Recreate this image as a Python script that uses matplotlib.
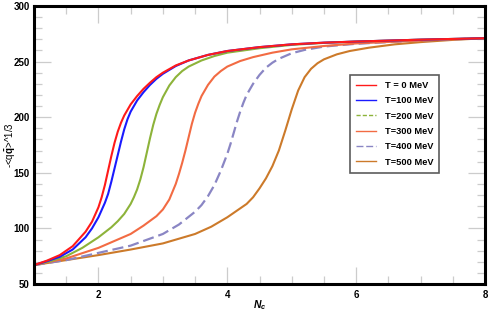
import matplotlib
matplotlib.use('Agg')
import matplotlib.pyplot as plt
from matplotlib.lines import Line2D
from matplotlib.ticker import MultipleLocator

plt.rcParams['font.family'] = ['Liberation Sans', 'DejaVu Sans']
plt.rcParams['font.weight'] = 'bold'
plt.rcParams['mathtext.fontset'] = 'custom'
plt.rcParams['mathtext.rm'] = 'Liberation Sans:bold'
plt.rcParams['mathtext.it'] = 'Liberation Sans:bold:italic'

# values
x_t0 = [1.0, 1.2, 1.4, 1.6, 1.8, 1.9, 2.0, 2.05, 2.1, 2.15, 2.2, 2.25, 2.3, 2.35,
        2.4, 2.5, 2.6, 2.7, 2.8, 2.9, 3.0, 3.2, 3.4, 3.7, 4.0, 4.5, 5.0, 5.5,
        6.0, 7.0, 8.0]
y_t0 = [67, 71, 76, 84, 97, 106, 119, 128, 139, 152, 165, 177, 187, 195,
        201.5, 211.5, 219, 225.5, 231, 236, 240, 246.5, 251, 256, 259.5, 263, 265.5, 267,
        268, 269.7, 271]

x_t100 = [1.0, 1.2, 1.4, 1.6, 1.8, 1.9, 2.0, 2.1, 2.15, 2.2, 2.25, 2.3, 2.35, 2.4,
          2.45, 2.5, 2.6, 2.7, 2.8, 2.9, 3.0, 3.2, 3.4, 3.7, 4.0, 4.5, 5.0, 5.5,
          6.0, 7.0, 8.0]
y_t100 = [67, 70.5, 74.5, 81, 92, 100, 110, 123, 131, 142, 154, 166, 178, 189,
          198, 205, 215, 222.5, 229, 234.5, 239, 246, 251, 256, 259.5, 263, 265.5, 267,
          268, 269.7, 271]

x_t200 = [1.0, 1.25, 1.5, 1.75, 2.0, 2.2, 2.3, 2.4, 2.5, 2.55, 2.6, 2.65, 2.7, 2.75,
          2.8, 2.85, 2.9, 2.95, 3.0, 3.1, 3.2, 3.3, 3.4, 3.6, 3.8, 4.0, 4.5, 5.0,
          5.5, 6.0, 7.0, 8.0]
y_t200 = [67, 70.5, 75, 82.5, 92, 101, 106.5, 113, 122, 128, 135, 144, 155, 168,
          181, 193, 203, 211, 218, 228.5, 236, 241.5, 245.5, 251, 255, 258, 262, 265,
          266.8, 268, 269.7, 271]

x_t300 = [1.0, 1.5, 2.0, 2.5, 2.7, 2.9, 3.0, 3.1, 3.2, 3.25, 3.3, 3.35, 3.4, 3.45,
          3.5, 3.55, 3.6, 3.7, 3.8, 3.9, 4.0, 4.2, 4.4, 4.7, 5.0, 5.5, 6.0, 7.0, 8.0]
y_t300 = [67, 73, 82.5, 95, 102.5, 111, 117, 126, 140, 149, 159, 170, 182, 194,
          204, 212, 219, 229, 236.5, 241.5, 245.5, 250.5, 254, 258, 261, 264, 266.3, 269, 271]

x_t400 = [1.0, 1.5, 2.0, 2.5, 3.0, 3.25, 3.5, 3.6, 3.7, 3.8, 3.9, 4.0, 4.05, 4.1,
          4.15, 4.2, 4.25, 4.3, 4.4, 4.5, 4.6, 4.7, 4.8, 5.0, 5.2, 5.5, 6.0, 7.0, 8.0]
y_t400 = [67, 71.5, 78, 84.5, 95, 103.5, 115, 121, 129, 139, 152, 167, 176, 186,
          196, 205, 213, 220, 230, 238, 244.5, 249, 252.5, 257.5, 260.5, 263.5, 266, 269, 271]

x_t500 = [1.0, 1.5, 2.0, 2.5, 3.0, 3.5, 3.75, 4.0, 4.15, 4.3, 4.4, 4.5, 4.6, 4.7,
          4.8, 4.9, 5.0, 5.1, 5.2, 5.3, 5.4, 5.5, 5.7, 5.9, 6.2, 6.6, 7.0, 7.5, 8.0]
y_t500 = [67, 71.5, 76, 81, 86.5, 95, 101.5, 110, 116, 122, 128, 136, 145, 156,
          170, 188, 207, 224, 236, 243.5, 248.5, 252, 256.5, 259.5, 262.5, 265.5, 267.5, 269.5, 271]

labels = ['T = 0 MeV', 'T=100 MeV', 'T=200 MeV', 'T=300 MeV', 'T=400 MeV', 'T=500 MeV']
colors = ['#FF1A1A', '#1A1AFF', '#8DB33A', '#F26B43', '#8A86C4', '#CC7A2A']

fig = plt.figure(figsize=(4.88, 3.14), dpi=100)
ax = fig.add_axes([0.0697, 0.0955, 0.9242, 0.8855])

series = [(x_t0, y_t0), (x_t100, y_t100), (x_t200, y_t200),
          (x_t300, y_t300), (x_t400, y_t400), (x_t500, y_t500)]
# draw from last to first so red/blue end up on top
for i in reversed(range(len(series))):
    xs, ys = series[i]
    if i == 4:
        ax.plot(xs, ys, color=colors[i], lw=1.6, dashes=(5, 2.2))
    else:
        ax.plot(xs, ys, color=colors[i], lw=1.5)

ax.set_xlim(1, 8)
ax.set_ylim(50, 300)
ax.xaxis.set_major_locator(MultipleLocator(2))
ax.xaxis.set_minor_locator(MultipleLocator(0.5))
ax.yaxis.set_major_locator(MultipleLocator(50))
ax.yaxis.set_minor_locator(MultipleLocator(10))
ax.tick_params(which='both', direction='in', top=True, right=True,
               color='#CCCCCC', width=0.9, labelsize=7)
ax.tick_params(which='major', length=12)
ax.tick_params(which='minor', length=6)
ax.tick_params(axis='x', pad=4)
ax.tick_params(axis='y', pad=3)
for s in ax.spines.values():
    s.set_linewidth(2.2)
    s.set_color('black')

ax.set_xlabel(r'$N_c$', fontsize=7.5)
ax.xaxis.set_label_coords(0.5, -0.05)
ax.set_ylabel(r'-<q$\bar{\mathrm{q}}$>^1/3', fontsize=7)
ax.yaxis.set_label_coords(-0.036, 0.5)

handles = []
for i, c in enumerate(colors):
    if i == 2:
        handles.append(Line2D([], [], color=c, lw=1, dashes=(3, 1.5)))
    elif i == 4:
        handles.append(Line2D([], [], color=c, lw=1, dashes=(5, 2)))
    else:
        handles.append(Line2D([], [], color=c, lw=1))
leg = ax.legend(handles, labels, loc='upper left', bbox_to_anchor=(0.70, 0.752),
                fontsize=6.7, frameon=True, fancybox=False, handlelength=2.2,
                labelspacing=0.68, borderpad=0.65, handletextpad=0.9,
                borderaxespad=0)
leg.get_frame().set_edgecolor('#333333')
leg.get_frame().set_linewidth(1.2)

fig.savefig('out.png', dpi=100)
